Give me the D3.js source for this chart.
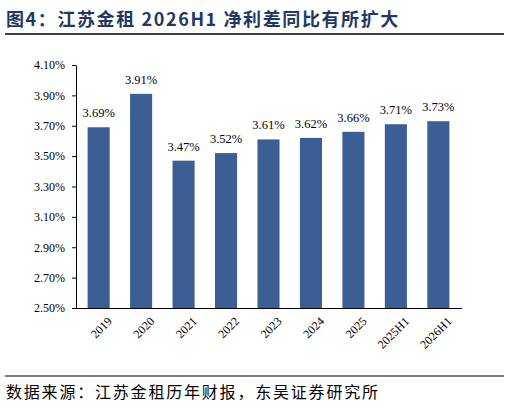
<!DOCTYPE html>
<html><head><meta charset="utf-8">
<script src="https://cdn.jsdelivr.net/npm/d3@7"></script>
<style>body{margin:0;background:#fff}</style></head>
<body><svg id="c" width="510" height="414"></svg>
<script>
const categories=["2019","2020","2021","2022","2023","2024","2025","2025H1","2026H1"];
const values=[3.69,3.91,3.47,3.52,3.61,3.62,3.66,3.71,3.73];
const yTicks=[2.5,2.7,2.9,3.1,3.3,3.5,3.7,3.9,4.1];
const title="图4：江苏金租 2026H1 净利差同比有所扩大";
const source="数据来源：江苏金租历年财报，东吴证券研究所";

const svg=d3.select("#c");
const serif="'Liberation Serif','DejaVu Serif',serif";
svg.append("text").attr("x",6).attr("y",26).text(title)
  .attr("font-family","'Noto Sans CJK SC',"+serif).attr("font-weight","bold").attr("font-size",18)
  .attr("letter-spacing",1.6).attr("fill","#1F3864");
svg.append("line").attr("x1",5).attr("x2",504).attr("y1",34).attr("y2",34).attr("stroke","#000").attr("stroke-width",1.5);
svg.append("line").attr("x1",5).attr("x2",504).attr("y1",376).attr("y2",376).attr("stroke","#000").attr("stroke-width",1);
svg.append("text").attr("x",6).attr("y",398).text(source)
  .attr("font-family","'Noto Sans CJK SC',sans-serif").attr("font-size",16).attr("letter-spacing",1.8).attr("fill","#000");

const x=d3.scaleBand().domain(categories).range([77,460]).paddingInner(0.48).paddingOuter(0.25);
const y=d3.scaleLinear().domain([2.5,4.1]).range([308,65]);
const g=svg.append("g");
const ya=g.append("g").attr("transform","translate(76,0)")
  .call(d3.axisLeft(y).tickValues(yTicks).tickFormat(d=>d.toFixed(2)+"%").tickSize(4).tickSizeOuter(0));
ya.selectAll("text").attr("font-family",serif).attr("font-size",12).attr("fill","#000").attr("dx",-4);
ya.selectAll("line,path").attr("stroke","#000");
const xa=g.append("g").attr("transform","translate(0,308)")
  .call(d3.axisBottom(x).tickSize(0).tickSizeOuter(0));
xa.select("path").attr("stroke","#000").attr("d","M76,0.5H462");
xa.selectAll("text").attr("font-family",serif).attr("font-size",12).attr("fill","#000")
  .attr("text-anchor","end").attr("transform","translate(6,6) rotate(-45)").attr("dy","0.7em");
g.selectAll("rect.b").data(values).enter().append("rect")
  .attr("x",(d,i)=>x(categories[i])).attr("width",x.bandwidth())
  .attr("y",d=>y(d)).attr("height",d=>y(2.5)-y(d)).attr("fill","#3B5F94");
g.selectAll("text.l").data(values).enter().append("text")
  .attr("x",(d,i)=>x(categories[i])+x.bandwidth()/2).attr("y",d=>y(d)-10)
  .attr("text-anchor","middle").attr("font-family",serif).attr("font-size",12.5)
  .text(d=>d.toFixed(2)+"%");
</script></body></html>
